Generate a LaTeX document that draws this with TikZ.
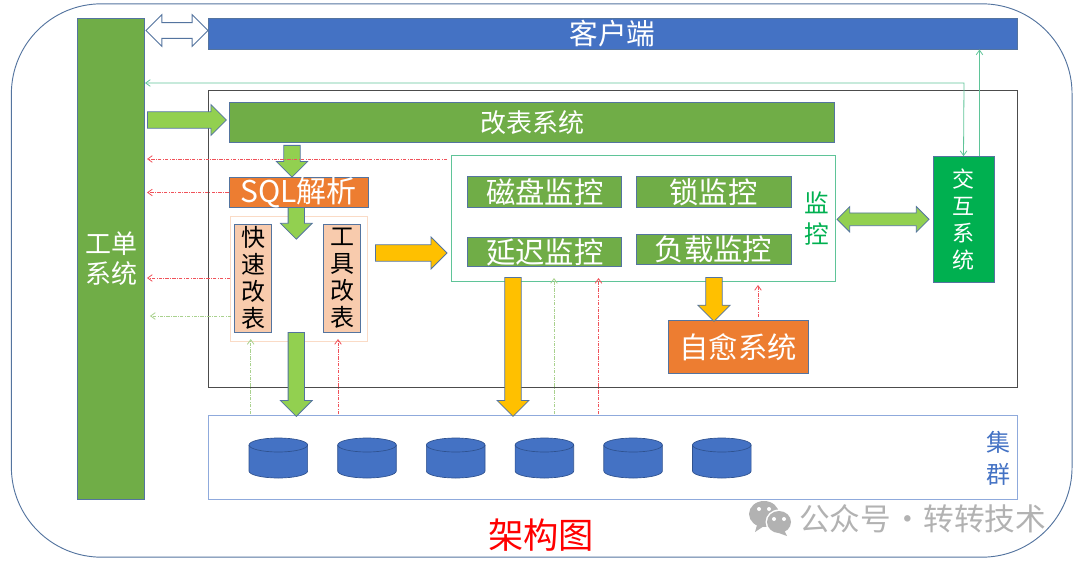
\documentclass[tikz,border=0pt]{standalone}
\usepackage{fontspec}
\setmainfont{Noto Sans CJK SC}
\usetikzlibrary{arrows.meta, shapes.arrows, calc}
\definecolor{mGreen}{HTML}{70AD47}
\definecolor{mBright}{HTML}{92D050}
\definecolor{mJade}{HTML}{00B050}
\definecolor{mBlue}{HTML}{4472C4}
\definecolor{mOrange}{HTML}{ED7D31}
\definecolor{mGold}{HTML}{FFC000}
\definecolor{mPeach}{HTML}{F8CBAD}
\definecolor{mEdge}{HTML}{54749F}
\definecolor{mDrum}{HTML}{2F528F}
\definecolor{mTeal}{HTML}{5FC498}
\definecolor{mPale}{HTML}{A9D18E}
\definecolor{mRed}{HTML}{F0525A}
\definecolor{mGray}{HTML}{B2B2B2}
\tikzset{
  px/.style={x=0.75pt, y=-0.75pt},
  sysbox/.style={draw=mEdge, line width=0.7pt, inner sep=0pt, text=white, align=center},
  framebox/.style={draw=#1, line width=0.7pt, inner sep=0pt},
  vertbox/.style={sysbox, fill=mPeach, text=black, minimum width=27.75pt, minimum height=81pt,
    font=\fontsize{18}{20.25}\selectfont},
  blockarrow/.style={single arrow, draw=mEdge, line width=0.6pt, inner xsep=0pt, inner ysep=5.85pt, anchor=tail,
    single arrow head indent=0pt},
  dblarrow/.style={double arrow, draw=mEdge, line width=0.6pt, inner xsep=0pt,
    double arrow head indent=0pt},
  drum/.style={draw=mDrum, line width=0.5pt, fill=mBlue},
  thinline/.style={line width=0.6pt, -{Straight Barb[length=3.5pt, width=5pt]}},
  reddash/.style={thinline, mRed, dash pattern=on 2.5pt off 1pt on 0.6pt off 1pt},
  paledash/.style={thinline, mPale, dash pattern=on 2.5pt off 1pt on 0.6pt off 1pt},
}
\begin{document}
\begin{tikzpicture}[px]
  \useasboundingbox (0,0) rectangle (1080,563);
  \node[framebox=mEdge, rounded corners=67.5pt, minimum width=795.5pt, minimum height=415pt] (outer) at (541.7,280.5) {};

  % left column and top bar
  \node[sysbox, fill=mGreen, minimum width=50.25pt, minimum height=360.4pt, font=\fontsize{19.5}{22.5}\selectfont] (gongdan) at (111,258.8) {工单\\系统};
  \node[sysbox, fill=mBlue, minimum width=606.7pt, minimum height=23pt, font=\fontsize{21.5}{24}\selectfont] (kehu) at (612.5,33.7) {客户端};
  \node[dblarrow, fill=white, inner ysep=5.6pt, minimum width=23.2pt, minimum height=46.5pt, double arrow head extend=6pt] (link) at (177,30.5) {};

  % main frame
  \node[framebox=black!70, minimum width=606.7pt, minimum height=222.4pt] (mainbox) at (612.5,238.7) {};
  \node[sysbox, fill=mGreen, minimum width=453.7pt, minimum height=30pt, font=\fontsize{19.5}{22}\selectfont] (gaibiao) at (532,122.3) {改表系统};
  \node[sysbox, fill=mOrange, minimum width=104.6pt, minimum height=22.5pt, font=\fontsize{22.5}{24}\selectfont] (sql) at (298.7,192.5) {SQL解析};
  \node[framebox=mPeach!70, minimum width=102.8pt, minimum height=93.8pt] (alter) at (298.5,278.5) {};
  \node[vertbox] (fast) at (253,278) {快\\速\\改\\表};
  \node[vertbox] (tool) at (342,278.7) {工\\具\\改\\表};

  % monitor group
  \node[framebox=mTeal, minimum width=288pt, minimum height=94pt] (monitor) at (643,218.5) {};
  \foreach \nm/\cx/\cy/\bw/\bh/\txt in
    {disk/544.7/192.3/153.8/30.7/磁盘监控, lockm/713.5/192.3/155/30.7/锁监控,
     delay/544.7/252/153.8/29.4/延迟监控, load/713.5/249/155/30/负载监控} {
    \node[sysbox, fill=mGreen, minimum width=\bw*0.75pt, minimum height=\bh*0.75pt, font=\fontsize{22}{24}\selectfont] (\nm) at (\cx,\cy) {\txt};
  }
  \node[text=mJade, inner sep=0pt, align=center, font=\fontsize{18.5}{23.5}\selectfont] (montext) at (816.5,218.5) {监\\控};
  \node[sysbox, fill=mJade, minimum width=45.7pt, minimum height=94.6pt, font=\fontsize{16.5}{20.25}\selectfont] (jiaohu) at (963.5,219.7) {交\\互\\系\\统};
  \node[sysbox, fill=mOrange, minimum width=104.5pt, minimum height=39.7pt, font=\fontsize{22}{24}\selectfont] (heal) at (738.3,346.8) {自愈系统};

  % cluster
  \node[draw=mBlue!60, line width=0.7pt, inner sep=0pt, minimum width=607pt, minimum height=63pt] (cluster) at (612.7,457.5) {};
  \foreach \i in {0,...,5} {
    \draw[drum] (249+\i*88.7,445) -- (249+\i*88.7,471) arc [start angle=180, end angle=0, x radius=29.3, y radius=7]
      -- (307.6+\i*88.7,445) arc [start angle=0, end angle=-180, x radius=29.3, y radius=7] -- cycle;
    \draw[drum, fill=none] (249+\i*88.7,445) arc [start angle=180, end angle=0, x radius=29.3, y radius=7];
  }
  \node[text=mBlue, inner sep=0pt, align=center, font=\fontsize{18}{23.5}\selectfont] (clustertext) at (998,458.5) {集\\群};

  % block arrows
  \node[blockarrow, fill=mBright, minimum width=22.5pt, minimum height=59.2pt, single arrow head extend=5.4pt] (a1) at (147,120) {};
  \node[blockarrow, fill=mBright, rotate=-90, minimum width=22.9pt, minimum height=23.8pt, single arrow head extend=5.6pt] (a2) at (292,145) {};
  \node[blockarrow, fill=mBright, rotate=-90, minimum width=23pt, minimum height=23.8pt, single arrow head extend=5.7pt] (a3) at (296.3,207) {};
  \node[blockarrow, fill=mBright, rotate=-90, minimum width=23.5pt, minimum height=63pt, single arrow head extend=5.8pt] (a4) at (296.3,332) {};
  \node[blockarrow, fill=mGold, minimum width=23.3pt, minimum height=53.7pt, single arrow head extend=5.8pt] (a5) at (375,253) {};
  \node[blockarrow, fill=mGold, rotate=-90, minimum width=23.2pt, minimum height=104.2pt, single arrow head extend=5.8pt] (a6) at (513,277) {};
  \node[blockarrow, fill=mGold, rotate=-90, minimum width=23.5pt, minimum height=33pt, single arrow head extend=6pt] (a7) at (714,277) {};
  \node[dblarrow, fill=mBright, inner ysep=4.5pt, minimum width=18.5pt, minimum height=69pt, double arrow head extend=4.7pt] (a8) at (883,219.3) {};

  % thin connectors
  \coordinate (leftend) at (147,0);
  \coordinate (turn) at (964,83);
  \coordinate (stat) at (447,159);
  \coordinate (alterred) at (230,278);
  \coordinate (alterpale) at (231,316);
  \draw[thinline, mTeal, {Straight Barb[length=3.5pt, width=5pt]}-{Straight Barb[length=3.5pt, width=5pt]}] (gongdan.east |- turn) -- (turn) -- (jiaohu.north);
  \draw[thinline, mTeal] ([xshift=12pt]jiaohu.north) -- ([xshift=12pt]jiaohu.north |- kehu.south);
  \draw[reddash] (stat) -- (stat -| leftend);
  \draw[reddash] (sql.west) -- (sql.west -| leftend);
  \draw[reddash] (alterred) -- (alterred -| leftend);
  \draw[paledash] (alterpale) -- ([xshift=2.2pt]alterpale -| leftend);
  \draw[paledash] (250.7,414) -- (250.7,339);
  \draw[reddash] (338,414) -- (338,339);
  \draw[paledash] (554,414) -- (554,278);
  \draw[reddash] (598.5,414) -- (598.5,278);
  \draw[reddash] (758,317) -- (758,285);

  % title and mark
  \node[text=red, inner sep=0pt, font=\fontsize{26.5}{28}\selectfont] (title) at (541,535) {架构图};
  \fill[mGray] (764,514) ellipse [x radius=15, y radius=13];
  \fill[mGray] (757,525) -- (755,532) -- (764,526) -- cycle;
  \fill[white] (779,522) ellipse [x radius=13.5, y radius=12.5];
  \fill[mGray] (779,522) ellipse [x radius=12, y radius=11];
  \fill[mGray] (784,530) -- (787,536) -- (776,532) -- cycle;
  \foreach \ex/\ey in {759/509, 769/509, 774/519, 784/519} {
    \fill[white] (\ex,\ey) circle [radius=2];
  }
  \node[text=mGray, anchor=west, inner sep=0pt, font=\fontsize{23}{24}\selectfont] (mark) at (799,519) {公众号\hspace{-4.5pt} · \hspace{-4.5pt}转转技术};
\end{tikzpicture}
\end{document}
